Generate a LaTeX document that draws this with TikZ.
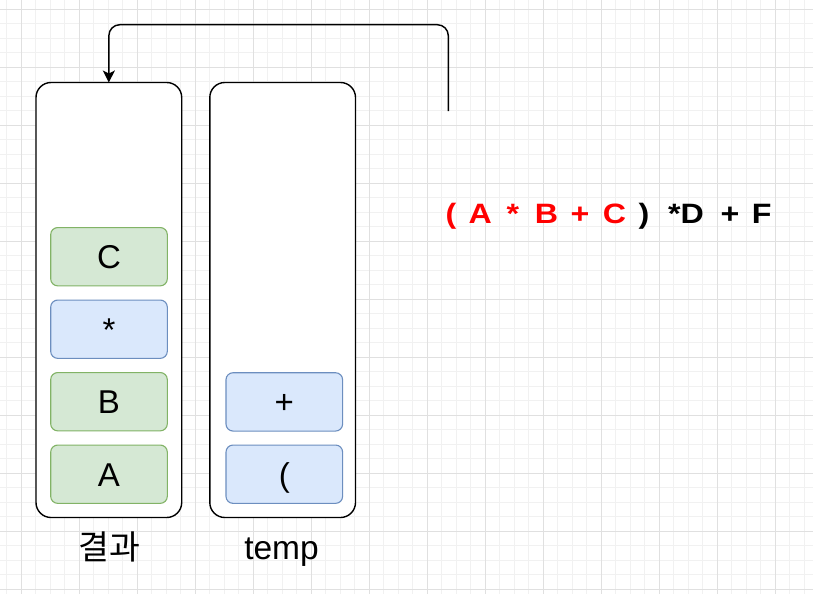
\documentclass[tikz,border=0pt]{standalone}
\usepackage{fontspec}
\setmainfont{Liberation Sans}
\newfontfamily\krfont{Noto Sans CJK KR}
\usetikzlibrary{arrows.meta}
\definecolor{gridminor}{RGB}{241,241,241}
\definecolor{gridmajor}{RGB}{224,224,224}
\definecolor{gfill}{HTML}{D5E8D4}
\definecolor{gdraw}{HTML}{82B366}
\definecolor{bfill}{HTML}{DAE8FC}
\definecolor{bdraw}{HTML}{6C8EBF}
\definecolor{exred}{HTML}{FF0000}
\newcommand{\wide}[1]{\scalebox{1.15}[1]{#1}}
\tikzset{
  stackbox/.style={draw=black, line width=1.4pt, rounded corners=15pt, fill=white,
    minimum width=145.7pt, minimum height=435pt, inner sep=0pt, outer sep=0pt},
  item/.style={line width=1.1pt, rounded corners=7pt, minimum width=116.6pt,
    minimum height=58.3pt, inner sep=0pt, font=\fontsize{33}{39}\selectfont,
    text height=23.6pt, text depth=0pt},
  gitem/.style={item, draw=gdraw, fill=gfill},
  bitem/.style={item, draw=bdraw, fill=bfill},
  lbl/.style={anchor=base, inner sep=0pt, font=\fontsize{33.5}{39}\selectfont},
  tch/.style={anchor=base, inner sep=0pt, font=\fontsize{28}{33}\selectfont\bfseries},
  flow/.style={line width=1.45pt, rounded corners=11pt, -{Stealth[length=12pt,width=12pt,inset=3pt]}}
}
\begin{document}
\begin{tikzpicture}[x=1pt,y=-1pt]
\useasboundingbox (0,0) rectangle (813,594);
\fill[white] (0,0) rectangle (813,594);
% grid
\foreach \i in {0,...,55} {\draw[gridminor,line width=1pt] ({6.8+14.5*\i},0) -- ({6.8+14.5*\i},594);}
\foreach \j in {0,...,40} {\draw[gridminor,line width=1pt] (0,{9.3+14.5*\j}) -- (813,{9.3+14.5*\j});}
\foreach \k in {0,...,13} {\draw[gridmajor,line width=1pt] ({21.3+58*\k},0) -- ({21.3+58*\k},594);}
\foreach \k in {0,...,10} {\draw[gridmajor,line width=1pt] (0,{9.3+58*\k}) -- (813,{9.3+58*\k});}

% containers
\node[stackbox] (res) at (108.85,300) {};
\node[stackbox] (tmp) at (282.65,300) {};

% items
\node[gitem] (c) at (109,256.7) {C};
\node[bitem] (mul) at (109,329.2) {*};
\node[gitem] (b) at (109,401.7) {B};
\node[gitem] (a) at (109,474.2) {A};
\node[bitem] (plus) at (284.3,401.9) {+};
\node[bitem] (lp) at (284.3,474.2) {(};

% labels
\node[lbl] (reslbl) at (109,559.5) {\krfont 결과};
\node[lbl] (tmplbl) at (281.5,559.5) {temp};

% expression
\node[tch,text=exred] (e1) at (450.9,223) {\wide{(}};
\node[tch,text=exred] (e2) at (480.3,223) {\wide{A}};
\node[tch,text=exred] (e3) at (513,223) {\wide{*}};
\node[tch,text=exred] (e4) at (546.5,223) {\wide{B}};
\node[tch,text=exred] (e5) at (579.9,223) {\wide{+}};
\node[tch,text=exred] (e6) at (614.5,223) {\wide{C}};
\node[tch] (e7) at (644,223) {\wide{)}};
\node[tch] (e8) at (686,223) {\wide{*D}};
\node[tch] (e9) at (729.9,223) {\wide{+}};
\node[tch] (e10) at (761.7,223) {\wide{F}};

% connector
\coordinate (src) at (448.3,111);
\draw[flow] (src) -- (448.3,24.7) -| (res.north);
\end{tikzpicture}
\end{document}
